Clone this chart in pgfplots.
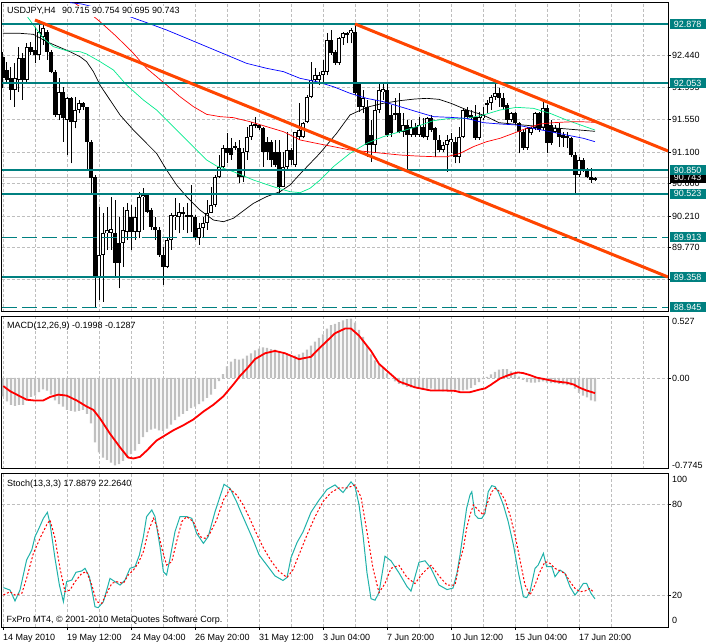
\documentclass[border=0pt]{standalone}
\usepackage{fontspec}
\setmainfont{Liberation Sans}
\usepackage{pgfplots}
\usepackage{pgfplotstable}
\pgfplotsset{compat=1.18}
\definecolor{mtteal}{RGB}{0,128,128}
\definecolor{mtorange}{RGB}{255,69,0}
\definecolor{mtgreen}{RGB}{0,235,140}
\definecolor{mtsilver}{RGB}{192,192,192}
\definecolor{mtgrid}{RGB}{190,190,190}
\definecolor{mtsea}{RGB}{32,178,170}
\newcommand\mtfont{\fontsize{9}{10.8}\selectfont}

\pgfplotstableread{
i o h l c
0 92.424 92.493 91.984 92.123
1 92.239 92.355 92.077 92.100
2 92.123 92.285 91.822 91.961
3 91.961 92.331 91.730 92.123
4 92.100 92.563 91.938 92.401
5 92.401 92.470 91.822 92.100
6 92.100 92.609 92.054 92.563
7 92.563 92.632 92.447 92.493
8 92.517 92.841 92.331 92.447
9 92.447 92.933 92.378 92.771
10 92.702 92.878 92.586 92.817
11 92.771 92.794 92.378 92.493
12 92.493 92.517 92.193 92.216
13 92.216 92.239 91.591 91.614
14 91.614 92.123 91.544 91.938
15 91.938 92.007 91.243 91.567
16 91.544 91.868 91.058 91.845
17 91.845 91.868 90.942 91.521
18 91.521 91.868 91.429 91.683
19 91.683 91.822 91.637 91.776
20 91.776 91.799 91.683 91.730
21 91.720 91.730 90.850 91.243
22 91.243 91.267 90.526 90.734
23 90.757 90.780 88.952 89.345
24 89.345 90.341 89.044 89.669
25 89.669 90.248 89.021 89.970
26 89.970 90.341 89.739 90.017
27 89.970 90.480 89.739 90.026
28 89.970 90.433 89.345 89.554
29 89.831 90.202 89.206 89.554
30 89.831 90.341 89.507 90.017
31 89.993 90.387 89.878 90.294
32 90.202 90.364 89.739 89.993
33 89.993 90.341 89.878 90.202
34 89.993 90.549 89.901 90.480
35 90.471 90.595 90.017 90.503
36 90.503 90.526 90.248 90.271
37 90.294 90.317 90.017 90.063
38 90.063 90.202 89.878 90.017
39 90.017 90.063 89.646 89.669
40 89.669 89.785 89.253 89.507
41 89.507 89.924 89.484 89.878
42 89.878 90.248 89.739 90.225
43 90.193 90.456 90.017 90.225
44 90.202 90.387 89.970 90.271
45 90.248 90.341 90.017 90.271
46 90.225 90.387 89.970 90.202
47 90.225 90.642 89.993 90.211
48 90.202 90.225 89.878 89.901
49 89.901 90.109 89.808 90.040
50 90.040 90.202 89.901 90.109
51 90.109 90.433 90.017 90.248
52 90.248 90.618 90.248 90.364
53 90.364 90.780 90.341 90.757
54 90.757 91.058 90.734 90.896
55 90.896 91.197 90.873 91.151
56 91.151 91.359 90.942 91.081
57 91.151 91.290 90.989 91.058
58 91.165 91.243 91.128 91.183
59 91.151 91.267 90.665 90.757
60 90.757 91.151 90.688 91.105
61 91.105 91.452 90.989 91.313
62 91.313 91.521 91.267 91.475
63 91.461 91.591 91.429 91.489
64 91.475 91.489 91.405 91.429
65 91.429 91.452 90.896 91.105
66 91.243 91.313 90.989 91.105
67 91.243 91.267 90.896 90.989
68 91.105 91.267 90.896 90.919
69 91.105 91.267 90.526 90.618
70 90.618 91.105 90.618 90.896
71 90.896 91.382 90.850 91.128
72 91.128 91.151 90.919 90.989
73 90.919 91.382 90.896 91.382
74 91.313 91.776 91.267 91.405
75 91.313 91.521 91.290 91.498
76 91.521 91.892 91.498 91.868
77 91.868 92.355 91.845 92.100
78 92.100 92.262 92.054 92.169
79 92.100 92.216 92.030 92.169
80 92.169 92.378 92.077 92.230
81 92.216 92.748 92.169 92.655
82 92.655 92.794 92.447 92.470
83 92.493 92.517 92.308 92.331
84 92.331 92.702 92.308 92.679
85 92.679 92.771 92.586 92.748
86 92.725 92.771 92.609 92.748
87 92.748 92.817 92.609 92.794
88 92.771 92.878 91.892 91.915
89 92.077 92.077 91.660 91.730
90 91.730 91.961 91.637 91.845
91 91.730 91.822 91.035 91.197
92 91.336 91.544 90.966 91.197
93 91.197 91.822 91.105 91.683
94 91.683 92.077 91.637 91.961
95 91.938 92.077 91.822 91.970
96 91.961 92.077 91.313 91.336
97 91.614 91.753 91.313 91.359
98 91.614 91.845 91.544 91.637
99 91.637 91.915 91.359 91.382
100 91.382 91.637 91.313 91.475
101 91.475 91.544 90.827 91.336
102 91.336 91.544 91.313 91.452
103 91.452 91.498 91.313 91.336
104 91.336 91.591 91.313 91.475
105 91.452 91.567 91.290 91.313
106 91.313 91.591 91.267 91.567
107 91.567 91.614 91.382 91.405
108 91.429 91.452 91.035 91.267
109 91.267 91.336 91.105 91.128
110 91.128 91.243 91.105 91.197
111 91.197 91.336 90.827 91.267
112 91.243 91.359 91.081 91.276
113 91.243 91.313 90.942 91.035
114 91.035 91.452 90.942 91.313
115 91.313 91.706 91.290 91.683
116 91.683 91.730 91.567 91.591
117 91.614 91.683 91.544 91.567
118 91.591 91.753 91.267 91.290
119 91.290 91.660 91.267 91.591
120 91.567 91.730 91.544 91.614
121 91.753 91.822 91.637 91.776
122 91.776 91.892 91.683 91.868
123 91.868 92.100 91.822 91.915
124 91.915 91.984 91.730 91.845
125 91.845 91.915 91.683 91.730
126 91.753 91.776 91.498 91.544
127 91.544 91.660 91.521 91.637
128 91.637 91.660 91.475 91.498
129 91.498 91.521 91.081 91.382
130 91.382 91.405 91.128 91.151
131 91.151 91.452 91.128 91.429
132 91.359 91.452 91.336 91.429
133 91.429 91.660 91.405 91.637
134 91.637 91.660 91.382 91.405
135 91.429 91.799 91.405 91.706
136 91.706 91.753 91.081 91.220
137 91.475 91.544 91.197 91.220
138 91.382 91.475 91.359 91.429
139 91.429 91.498 91.174 91.313
140 91.336 91.382 91.174 91.290
141 91.322 91.382 91.151 91.304
142 91.290 91.313 91.035 91.058
143 91.058 91.105 90.503 90.780
144 90.780 91.035 90.757 90.989
145 90.989 91.012 90.827 90.850
146 90.850 90.873 90.734 90.757
147 90.757 90.873 90.665 90.711
148 90.715 90.754 90.695 90.743
}\candles

\pgfplotstableread{
i v
0 -0.156
1 -0.200
2 -0.228
3 -0.237
4 -0.228
5 -0.228
6 -0.185
7 -0.162
8 -0.150
9 -0.121
10 -0.098
11 -0.107
12 -0.141
13 -0.191
14 -0.223
15 -0.243
16 -0.272
17 -0.281
18 -0.286
19 -0.281
20 -0.272
21 -0.306
22 -0.387
23 -0.547
24 -0.633
25 -0.677
26 -0.697
27 -0.720
28 -0.743
29 -0.734
30 -0.706
31 -0.677
32 -0.647
33 -0.619
34 -0.561
35 -0.503
36 -0.460
37 -0.439
38 -0.430
39 -0.445
40 -0.451
41 -0.430
42 -0.396
43 -0.358
44 -0.330
45 -0.306
46 -0.280
47 -0.257
48 -0.243
49 -0.222
50 -0.200
51 -0.170
52 -0.141
53 -0.092
54 -0.026
55 0.032
56 0.099
57 0.139
58 0.162
59 0.156
60 0.165
61 0.190
62 0.210
63 0.235
64 0.250
65 0.260
66 0.255
67 0.245
68 0.240
69 0.225
70 0.205
71 0.195
72 0.190
73 0.190
74 0.200
75 0.215
76 0.240
77 0.275
78 0.310
79 0.340
80 0.370
81 0.420
82 0.450
83 0.460
84 0.475
85 0.490
86 0.500
87 0.505
88 0.470
89 0.410
90 0.350
91 0.270
92 0.200
93 0.150
94 0.110
95 0.085
96 0.040
97 0.000
98 -0.030
99 -0.050
100 -0.060
101 -0.075
102 -0.080
103 -0.085
104 -0.090
105 -0.095
106 -0.090
107 -0.090
108 -0.100
109 -0.110
110 -0.115
111 -0.110
112 -0.105
113 -0.100
114 -0.107
115 -0.105
116 -0.100
117 -0.084
118 -0.060
119 -0.035
120 -0.010
121 0.010
122 0.030
123 0.052
124 0.070
125 0.075
126 0.075
127 0.055
128 0.030
129 0.012
130 -0.017
131 -0.035
132 -0.040
133 -0.040
134 -0.035
135 -0.030
136 -0.040
137 -0.045
138 -0.045
139 -0.050
140 -0.055
141 -0.060
142 -0.063
143 -0.090
144 -0.127
145 -0.150
146 -0.165
147 -0.190
148 -0.200
}\macdhist

\pgfplotsset{
  mtpanel/.style={
    scale only axis, width=666pt, xmin=-0.25, xmax=166.25,
    anchor=north west, clip mode=individual,
    axis line style={black, line width=1pt},
    grid style={mtgrid, line width=0.7pt, dash pattern=on 3pt off 2pt},
    minor grid style={mtgrid, line width=0.7pt, dash pattern=on 3pt off 2pt},
    ytick pos=right, yticklabel pos=right, ymajorgrids,
    tick align=outside, major tick length=3pt, minor tick length=0pt,
    tick style={black, line width=0.7pt},
    tick label style={font=\mtfont},
    yticklabel style={inner sep=1pt},
  },
  nox/.style={xtick={0,8,...,160}, xticklabels={}, xmajorgrids, xtick style={draw=none}},
}
\tikzset{
  lbl/.style={font=\mtfont, anchor=west, inner xsep=0pt, inner ysep=0pt,
     minimum width=36pt, minimum height=10pt, xshift=1.5pt},
  rlbl/.style={font=\mtfont, anchor=west, inner sep=0pt, xshift=4pt},
}

\begin{document}
\begin{tikzpicture}
\path[use as bounding box, fill=white] (0pt,0pt) rectangle (706pt,-644pt);

% ---------------- main price panel ----------------
\begin{axis}[mtpanel, nox, at={(2pt,-3pt)}, height=309pt,
  ymin=88.878, ymax=93.169,
  ytick={92.440,91.995,91.550,91.100,90.660,90.210,89.770,89.330},
  yticklabels={92.440,,91.550,91.100,,90.210,89.770,},
]
\addplot[mtsilver, line width=0.8pt] coordinates {(-0.25,90.743) (166.25,90.743)};
\addplot[draw=none, mark=none,
  error bars/.cd, y dir=plus, y explicit, error mark=none,
  error bar style={draw=black, line width=1pt, solid}]
  table[x=i, y=l, y error expr=\thisrow{h}-\thisrow{l}] {\candles};
\addplot[draw=none, mark=none,
  error bars/.cd, y dir=both, y explicit, error mark=none,
  error bar style={draw=black, line width=3.2pt, line cap=butt, solid}]
  table[x=i, y expr=(\thisrow{o}+\thisrow{c})/2,
        y error expr={max(abs(\thisrow{c}-\thisrow{o})/2,0.006)}] {\candles};
\addplot[draw=none, mark=none,
  error bars/.cd, y dir=both, y explicit, error mark=none,
  error bar style={draw=white, line width=1.2pt, line cap=butt, solid}]
  table[x=i, y expr=(\thisrow{o}+\thisrow{c})/2,
        y error expr={max((\thisrow{c}-\thisrow{o})/2-0.014,0)}] {\candles};
\addplot[black, line width=0.7pt] coordinates {
(0,92.748) (4.25,92.748) (7.6,92.734) (10.9,92.632) (13.8,92.563) (16.75,92.493)
(19.25,92.424) (20.9,92.355) (22.6,92.216) (24.25,92.030) (26.75,91.822) (29.25,91.614)
(32.6,91.405) (35.9,91.220) (38.4,91.081) (40.9,90.850) (43.4,90.642) (45.9,90.480)
(49.25,90.294) (52.6,90.155) (55.1,90.132) (57.6,90.179) (59.25,90.248) (62.6,90.387)
(65.9,90.480) (69.25,90.549) (71.75,90.642) (74.25,90.794) (79.2,91.081) (83.4,91.359)
(86.75,91.614) (90.9,91.720) (95,91.776) (99.25,91.813) (103,91.836) (106,91.845)
(109,91.831) (112,91.776) (116,91.683) (120,91.614) (124,91.507) (130,91.475)
(136,91.443) (142,91.415) (148,91.387)};
\addplot[mtgreen, line width=0.7pt] coordinates {
(4.25,93.118) (7.6,92.864) (10.1,92.679) (12.6,92.563) (15.9,92.507) (19.25,92.493)
(20.9,92.461) (24.25,92.355) (27.6,92.239) (30.9,92.030) (35.1,91.822) (38.4,91.683)
(40.9,91.544) (44.25,91.359) (47.6,91.174) (50.9,90.989) (53.4,90.905) (57.6,90.827)
(62.6,90.711) (67.6,90.618) (71.75,90.549) (74.25,90.535) (76.75,90.595) (79.25,90.711)
(82.6,90.896) (86.75,91.081) (90.9,91.220) (95.1,91.313) (99.25,91.382) (103.4,91.452)
(107.6,91.535) (111.75,91.567) (115.9,91.567) (120.1,91.614) (124.25,91.683)
(128.4,91.720) (132.6,91.706) (136.75,91.637) (140.9,91.544) (145.1,91.461) (148,91.405)};
\addplot[red, line width=0.7pt] coordinates {
(18,93.165) (22.2,93.003) (24.25,92.910) (28.4,92.702) (32.6,92.470) (35.9,92.262)
(38.4,92.146) (40.9,92.030) (44.25,91.868) (47.6,91.730) (50.9,91.623) (54.25,91.591)
(57.6,91.577) (61.75,91.521) (65.9,91.452) (70.1,91.382) (74.25,91.267) (78.4,91.220)
(82.6,91.174) (86.75,91.128) (90.9,91.105) (95.1,91.081) (99.25,91.058) (103.4,91.044)
(107.6,91.035) (111,91.035) (114.25,91.081) (117.6,91.174) (120.9,91.243) (124.25,91.290)
(127.6,91.359) (130.9,91.429) (134.25,91.489) (137.6,91.507) (140.9,91.517) (144.25,91.521)
(148,91.512)};
\addplot[blue, line width=0.7pt] coordinates {
(16.75,93.174) (19.7,93.155) (30.5,93.003) (35.9,92.896) (40.9,92.794) (45.9,92.679)
(50.9,92.563) (55.9,92.447) (60.9,92.331) (65.9,92.262) (70.1,92.216) (74.25,92.123)
(78.4,92.077) (82.6,92.007) (86.75,91.915) (90.9,91.845) (95.1,91.799) (99.25,91.730)
(103.4,91.660) (107.6,91.591) (111.75,91.581) (115.9,91.567) (120.1,91.507) (124.25,91.489)
(128.4,91.475) (132.6,91.429) (136.75,91.382) (140.9,91.336) (145.1,91.290) (148,91.243)};
\addplot[mtteal, line width=2pt] coordinates {(-0.25,92.878) (166.25,92.878)};
\addplot[mtteal, line width=2pt] coordinates {(-0.25,92.053) (166.25,92.053)};
\addplot[mtteal, line width=2pt] coordinates {(-0.25,90.850) (166.25,90.850)};
\addplot[mtteal, line width=2pt] coordinates {(-0.25,90.523) (166.25,90.523)};
\addplot[mtteal, line width=2pt] coordinates {(-0.25,89.358) (166.25,89.358)};
\addplot[mtteal, line width=1.3pt, dash pattern=on 15pt off 5pt] coordinates {(-0.25,89.913) (166.25,89.913)};
\addplot[mtteal, line width=1.3pt, dash pattern=on 15pt off 5pt] coordinates {(-0.25,88.945) (166.25,88.945)};
\addplot[mtorange, line width=3pt] coordinates {(8,92.933) (166.25,89.364)};
\addplot[mtorange, line width=3pt] coordinates {(88,92.878) (166.25,91.114)};
\node[rlbl] at (axis cs:166.25,91.995) {91.995};
\node[rlbl] at (axis cs:166.25,90.660) {90.660};
\node[lbl, fill=mtteal, text=white] at (axis cs:166.25,92.878) {92.878};
\node[lbl, fill=mtteal, text=white] at (axis cs:166.25,92.053) {92.053};
\node[lbl, fill=black, text=white] at (axis cs:166.25,90.743) {90.743};
\node[lbl, fill=mtteal, text=white] at (axis cs:166.25,90.850) {90.850};
\node[lbl, fill=mtteal, text=white] at (axis cs:166.25,90.523) {90.523};
\node[lbl, fill=mtteal, text=white] at (axis cs:166.25,89.913) {89.913};
\node[lbl, fill=mtteal, text=white] at (axis cs:166.25,89.358) {89.358};
\node[lbl, fill=mtteal, text=white] at (axis cs:166.25,88.945) {88.945};
\end{axis}

% ---------------- MACD panel ----------------
\begin{axis}[mtpanel, nox, at={(2pt,-316pt)}, height=153pt,
  ymin=-0.7745, ymax=0.527, ytick={0}, yticklabels={0.00}]
\addplot[ybar, bar width=2.2pt, fill=mtsilver, draw=none] table[x=i, y=v] {\macdhist};
\addplot[red, line width=1.8pt] coordinates {
(0.08,-0.069) (1.75,-0.112) (4.25,-0.156) (5.9,-0.185) (7.6,-0.191) (10.1,-0.191)
(11.75,-0.162) (13.8,-0.142) (15.9,-0.150) (18.4,-0.191) (20.9,-0.243) (22.6,-0.272)
(24.25,-0.344) (26.75,-0.474) (29.25,-0.590) (31.3,-0.677) (32.6,-0.685) (34.25,-0.671)
(35.9,-0.619) (38.4,-0.532) (40.1,-0.497) (42.6,-0.445) (45.1,-0.402) (47.6,-0.353)
(50.1,-0.286) (52.6,-0.228) (55.1,-0.156) (57.6,-0.055) (59.25,0.017) (61,0.080)
(63,0.160) (65.5,0.210) (68,0.230) (70.5,0.210) (74,0.160) (77,0.180) (79,0.250)
(83,0.380) (85.5,0.420) (87,0.420) (89,0.360) (92,0.230) (94,0.120) (97,0.030)
(99,-0.030) (103,-0.080) (107,-0.107) (110.5,-0.107) (113,-0.110) (114.25,-0.121)
(116.75,-0.121) (119.25,-0.098) (120.5,-0.089) (121.75,-0.063) (123,-0.034) (124.25,-0.005)
(125.9,0.018) (127.6,0.038) (128.8,0.047) (130.1,0.041) (131.75,0.024) (133.4,0.003)
(135.5,-0.011) (137.6,-0.026) (139.25,-0.034) (140.9,-0.040) (142.6,-0.055) (144.25,-0.084)
(145.9,-0.107) (148,-0.129)};
\node[rlbl, anchor=north west, yshift=-2.5pt] at (axis cs:166.25,0.527) {0.527};
\node[rlbl, anchor=south west, yshift=0.5pt] at (axis cs:166.25,-0.7745) {-0.7745};
\end{axis}

% ---------------- Stochastic panel ----------------
\begin{axis}[mtpanel, at={(2pt,-473pt)}, height=154pt,
  ymin=-0.66, ymax=100.86, ytick={20,80}, yticklabels={20,80},
  xtick={0,16,...,144},
  xticklabels={14 May 2010,19 May 12:00,24 May 04:00,26 May 20:00,31 May 12:00,3 Jun 04:00,7 Jun 20:00,10 Jun 12:00,15 Jun 04:00,17 Jun 20:00},
  minor xtick={8,24,...,160}, xmajorgrids, xminorgrids, xtick pos=left,
  xticklabel style={anchor=base west, inner sep=0pt, xshift=0pt, yshift=-10.5pt},
]
\addplot[mtsea, line width=1pt] coordinates {
(0.1,25.3) (1.75,23.7) (3,16.5) (4.25,23.7) (5.9,43.5) (7.2,50.1) (8,58.9) (8.8,63.3)
(10.1,71.0) (11.1,74.9) (11.75,67.7) (13,44.6) (14.1,27.0) (15.1,16.0) (15.9,29.2)
(17.2,30.3) (18.25,35.4) (19.7,36.3) (20.5,38.0) (21.6,32.5) (23,12.7) (23.8,12.1)
(25.1,16.0) (26.75,31.4) (28,29.2) (29.25,27.0) (30.5,30.3) (31.75,38.0) (33,39.1)
(34.1,46.8) (35.1,58.9) (35.9,72.1) (37.2,76.5) (38,72.1) (39.25,52.3) (40.1,35.8)
(40.9,33.6) (41.75,44.6) (43,62.2) (44.25,72.1) (45.9,72.1) (47.2,71.0) (48.4,61.1)
(50.1,54.5) (51.3,58.9) (53,75.3) (55.25,93.4) (56.75,90.8) (58.4,81.9) (59.25,76.5)
(60,72) (61,66) (62.5,57) (64,47) (66,40) (68,33) (70,30) (71,32) (72,45) (73.5,55)
(75,62) (77,75) (79,83) (81,90) (83,93) (85,88) (87,95) (88,92) (89,80) (90,60) (91,35)
(92,18) (93,17) (94,22) (95.5,46) (97,43) (99,35) (101,26) (102,23) (104,42) (105.5,43)
(107,38) (109,27) (111,24) (112.5,25) (113.5,35) (114.25,46.8) (115.1,62.2) (115.9,77.6)
(116.75,86.4) (117.2,88.5) (118,73.2) (118.8,71.0) (119.7,71.0) (120.5,74.3) (121.3,88.5)
(122.2,92.5) (123,91.9) (123.8,88.5) (125.1,79.8) (126.3,68.8) (127.6,53.4) (128.8,35.8)
(130.1,19.3) (130.9,18.7) (131.75,22.6) (133,38.0) (133.8,40.2) (135.1,47.9) (135.9,39.1)
(137.2,39.1) (138,32.5) (139.25,36.9) (140.5,34.7) (141.75,25.9) (143,20.4) (143.8,23.1)
(145.1,28.1) (145.9,28.1) (147,21.5) (148,17.9)};
\addplot[red, line width=1pt, dash pattern=on 2pt off 2pt] coordinates {
(0.1,20.4) (1.75,22.6) (3,20.4) (4.7,21.5) (5.9,31.4) (7.6,47.9) (9.25,57.8) (10.9,66.6)
(11.75,69.9) (13,57.8) (14.25,38.0) (15.5,22.6) (16.75,23.7) (18,29.2) (19.7,34.7)
(20.9,35.8) (22.2,27.0) (23.4,16.0) (24.7,14.9) (25.9,21.5) (27.2,28.1) (28.4,29.2)
(30.1,28.1) (31.3,33.6) (32.6,36.9) (33.8,41.3) (35.1,49.0) (36.3,62.2) (37.6,71.0)
(38.4,66.6) (39.7,51.2) (40.9,40.2) (42.2,42.4) (43.4,55.6) (44.7,68.8) (45.9,72.1)
(47.6,68.8) (49.25,58.9) (50.5,57.8) (51.75,61.1) (53.4,69.9) (55.1,83.1) (56.75,90.3)
(58.4,86.4) (59.25,83.1) (60,80) (61.5,72) (63,63) (65,52) (67,43) (69,36) (71,32)
(72.5,37) (74,47) (76,60) (78,72) (80,82) (82,88) (84,91) (86,91) (88,93) (89.5,85)
(91,62) (92.5,38) (94,22) (95.5,28) (97,38) (99,40) (101,32) (103,28) (105,35) (107,40)
(109,33) (111,27) (113,27) (114.25,43.5) (115.1,51.2) (115.9,64.4) (116.75,73.2)
(117.6,79.8) (118.4,77.6) (119.25,75.3) (120.1,73.2) (120.9,79.8) (122.2,88.5) (123,90.8)
(124.25,88.5) (125.5,83.1) (126.75,73.2) (128,60.0) (129.25,43.5) (130.5,27.0)
(131.75,20.4) (133,27.0) (134.25,35.8) (135.5,42.4) (136.75,41.3) (138,38.0)
(139.25,36.3) (140.5,34.7) (141.75,29.2) (143,24.8) (144.25,22.6) (145.5,23.1)
(146.75,24.8) (147.6,22.3)};
\node[rlbl, yshift=-5.5pt] at (axis cs:166.25,100) {100};
\node[rlbl, yshift=6pt] at (axis cs:166.25,0) {0};
\end{axis}

\node[font=\mtfont, anchor=base west, fill=white, inner sep=1.5pt] at (5.5pt,-14pt)
  {USDJPY,H4\hspace{4pt} 90.715 90.754 90.695 90.743};
\node[font=\mtfont, anchor=base west, inner sep=0pt] at (7pt,-328.5pt) {MACD(12,26,9) -0.1998 -0.1287};
\node[font=\mtfont, anchor=base west, inner sep=0pt] at (7pt,-486.5pt) {Stoch(13,3,3) 17.8879 22.2640};
\node[font=\mtfont, anchor=base west, inner sep=0pt] at (6.5pt,-622pt) {FxPro MT4, © 2001-2010 MetaQuotes Software Corp.};
\end{tikzpicture}
\end{document}
